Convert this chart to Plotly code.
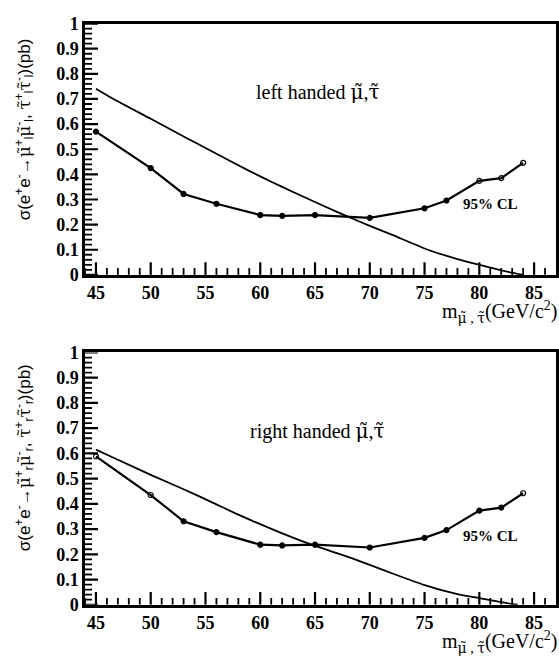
import plotly.graph_objects as go

# ---- data ----
mass_limit = [45, 50, 53, 56, 60, 62, 65, 70, 75, 77, 80, 82, 84]
limit_left = [0.57, 0.425, 0.322, 0.283, 0.238, 0.235, 0.238, 0.227, 0.265, 0.296, 0.374, 0.385, 0.446]
limit_right = [0.588, 0.435, 0.331, 0.288, 0.238, 0.235, 0.238, 0.227, 0.265, 0.296, 0.373, 0.385, 0.442]

mass_theory_left = [45, 46.6, 50, 53.3, 55, 58.3, 60, 62, 64, 66, 68, 70, 72, 75.3, 78, 80, 82, 84]
theory_left = [0.741, 0.70, 0.621, 0.544, 0.505, 0.429, 0.392, 0.35, 0.31, 0.27, 0.232, 0.195, 0.16, 0.10, 0.063, 0.04, 0.018, 0.0]
mass_theory_right = [45, 47, 50, 53, 55.7, 58, 61.5, 64.7, 68, 70, 72, 75, 78, 80, 82, 83.5]
theory_right = [0.615, 0.575, 0.515, 0.458, 0.404, 0.357, 0.292, 0.238, 0.19, 0.158, 0.125, 0.078, 0.042, 0.026, 0.01, 0.0]

y_ticks = [0, 0.1, 0.2, 0.3, 0.4, 0.5, 0.6, 0.7, 0.8, 0.9, 1]
y_tick_labels = ["0", "0.1", "0.2", "0.3", "0.4", "0.5", "0.6", "0.7", "0.8", "0.9", "1"]
x_ticks = [45, 50, 55, 60, 65, 70, 75, 80, 85]
x_minor_ticks = [v for v in range(44, 87) if v % 5 != 0]
y_minor_ticks = [k / 50 for k in range(1, 50) if k % 5 != 0]

# ---- style ----
W, H = 559, 672
X_RANGE = [44, 87]
Y_RANGE = [0, 1]
serif = "Liberation Serif, Times New Roman, serif"
sans = "Liberation Sans, Arial, sans-serif"
sym_left = ["circle"] * 10 + ["circle-open"] * 3
sym_right = ["circle-open"] * 2 + ["circle"] * 10 + ["circle-open"]
MAJ_PX, MIN_PX = 13, 7


def tl(ch):
    return '<span style="font-family:DejaVu Serif">%s\u0303</span>' % ch


def ydom(top_px, bot_px):
    return [1 - bot_px / H, 1 - top_px / H]


xdom = [85 / W, 556 / W]
dom_top = ydom(14, 273)
dom_bot = ydom(353, 613)
plot_w_px = (xdom[1] - xdom[0]) * W
plot_h_px = (dom_top[1] - dom_top[0]) * H
x_per_px = (X_RANGE[1] - X_RANGE[0]) / plot_w_px
y_per_px = (Y_RANGE[1] - Y_RANGE[0]) / plot_h_px

fig = go.Figure()

panels = [
    ("x", "y", limit_left, mass_theory_left, theory_left, "l", "left handed ", sym_left),
    ("x2", "y2", limit_right, mass_theory_right, theory_right, "r", "right handed ", sym_right),
]


def tick_trace(xa, ya, vals, length_px, width, horizontal_axis):
    xs, ys = [], []
    for v in vals:
        if horizontal_axis:
            xs += [v, v, None]
            ys += [Y_RANGE[0], Y_RANGE[0] + length_px * y_per_px, None]
        else:
            xs += [X_RANGE[0], X_RANGE[0] + length_px * x_per_px, None]
            ys += [v, v, None]
    return go.Scatter(x=xs, y=ys, mode="lines", xaxis=xa, yaxis=ya, hoverinfo="skip",
                      line=dict(color="black", width=width), showlegend=False,
                      connectgaps=False)


for xa, ya, lim, mth, th, s, lab, sym in panels:
    fig.add_trace(tick_trace(xa, ya, x_ticks, MAJ_PX, 2.2, True))
    fig.add_trace(tick_trace(xa, ya, x_minor_ticks, MIN_PX, 1.8, True))
    fig.add_trace(tick_trace(xa, ya, y_ticks, MAJ_PX, 2.2, False))
    fig.add_trace(tick_trace(xa, ya, y_minor_ticks, MIN_PX, 1.8, False))
    fig.add_trace(go.Scatter(x=mth, y=th, mode="lines", xaxis=xa, yaxis=ya,
                             line=dict(color="black", width=1.8, shape="spline", smoothing=0.6),
                             showlegend=False))
    fig.add_trace(go.Scatter(x=mass_limit, y=lim, mode="lines+markers", xaxis=xa, yaxis=ya,
                             line=dict(color="black", width=2.2),
                             marker=dict(symbol=sym, size=5, color="black",
                                         line=dict(color="black", width=1.2)),
                             showlegend=False))

axis_common_x = dict(range=X_RANGE, tickmode="array", tickvals=x_ticks, ticks="",
                     showline=True, linecolor="black", linewidth=2.5, mirror=True,
                     showgrid=False, zeroline=False,
                     tickfont=dict(family=serif, size=18, color="black", weight="bold"))
axis_common_y = dict(range=Y_RANGE, tickmode="array", tickvals=y_ticks, ticktext=y_tick_labels,
                     ticks="", showline=True, linecolor="black", linewidth=2.5, mirror=True,
                     showgrid=False, zeroline=False,
                     tickfont=dict(family=serif, size=18, color="black", weight="bold"))

fig.update_layout(
    width=W, height=H, margin=dict(l=0, r=0, t=0, b=0),
    paper_bgcolor="white", plot_bgcolor="white",
    xaxis=dict(domain=xdom, anchor="y", **axis_common_x),
    yaxis=dict(domain=dom_top, anchor="x", **axis_common_y),
    xaxis2=dict(domain=xdom, anchor="y2", **axis_common_x),
    yaxis2=dict(domain=dom_bot, anchor="x2", **axis_common_y),
)

annots = []
title_centers = [123, 462]
for i, (xa, ya, lim, mth, th, s, lab, sym) in enumerate(panels):
    d = dom_top if i == 0 else dom_bot
    ytitle = ("σ(e<sup>+</sup>e<sup>-</sup>→" + tl("μ") + "<sup>+</sup><sub>%s</sub>" + tl("μ")
              + "<sup>-</sup><sub>%s</sub>, " + tl("τ") + "<sup>+</sup><sub>%s</sub>" + tl("τ")
              + "<sup>-</sup><sub>%s</sub>)(pb)") % (s, s, s, s)
    annots.append(dict(xref="paper", yref="paper", x=24 / W, y=1 - title_centers[i] / H,
                       text=ytitle, textangle=-90, showarrow=False,
                       xanchor="center", yanchor="middle",
                       font=dict(family=sans, size=17, color="black")))
    annots.append(dict(xref="paper", yref="paper", x=1.0, y=d[0] - 38 / H,
                       text="m<sub>" + tl("μ") + " , " + tl("τ") + "</sub>(GeV/c<sup>2</sup>)",
                       showarrow=False, xanchor="right", yanchor="middle",
                       font=dict(family=serif, size=20, color="black")))
    annots.append(dict(xref=xa, yref=ya, x=65.2, y=0.726 if i == 0 else 0.69,
                       text=lab + tl("μ") + "," + tl("τ"), showarrow=False,
                       xanchor="center", yanchor="middle",
                       font=dict(family=serif, size=20, color="black")))
    annots.append(dict(xref=xa, yref=ya, x=81.0, y=0.282 if i == 0 else 0.273,
                       text="<b>95% CL</b>", showarrow=False, xanchor="center", yanchor="middle",
                       font=dict(family=serif, size=15, color="black")))
fig.update_layout(annotations=annots)

fig.write_html("out.html")
